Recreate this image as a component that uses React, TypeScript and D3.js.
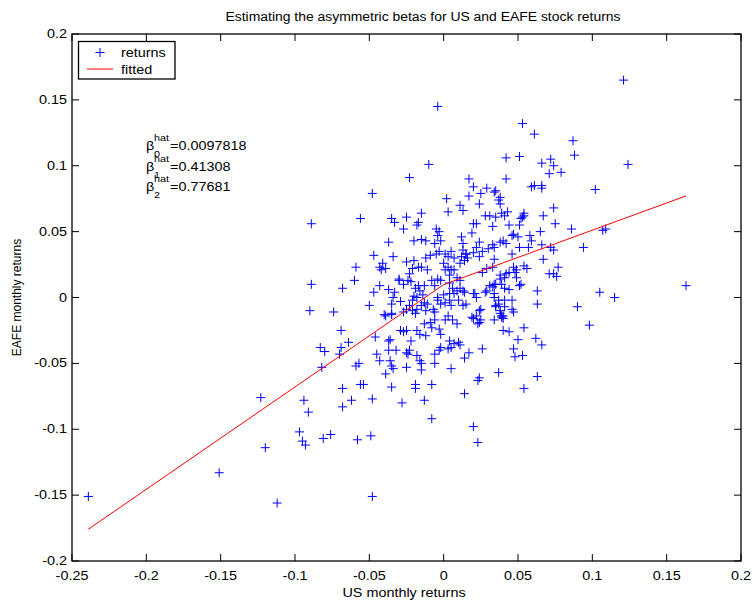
import React from "react";
import * as d3 from "d3";

// Monthly returns: [US, EAFE]
const observations: [number, number][] = [
  [-0.239, -0.151], [-0.151, -0.133], [-0.123, -0.076], [-0.120, -0.114], [-0.112, -0.156],
  [-0.097, -0.102], [-0.095, -0.109], [-0.093, -0.112], [-0.094, -0.078], [-0.091, -0.087],
  [-0.089, 0.056], [-0.089, 0.010], [-0.090, -0.010], [-0.074, -0.011], [-0.069, -0.025],
  [-0.069, -0.038], [-0.070, -0.043], [-0.083, -0.038], [-0.080, -0.041], [-0.082, -0.053],
  [-0.064, -0.034], [-0.068, -0.069], [-0.062, -0.078], [-0.068, -0.083], [-0.081, -0.107],
  [-0.076, -0.104], [-0.058, -0.108], [-0.049, -0.105], [-0.048, -0.151], [-0.056, -0.066],
  [-0.054, -0.066], [-0.048, -0.077], [-0.059, -0.052], [-0.057, -0.050], [-0.046, -0.030],
  [-0.036, -0.032], [-0.050, -0.006], [-0.047, 0.004], [-0.043, 0.009], [-0.037, 0.006],
  [-0.033, 0.004], [-0.040, -0.013], [-0.035, -0.013], [-0.035, -0.005], [-0.029, -0.003],
  [-0.030, 0.013], [-0.027, 0.010], [-0.022, 0.012], [-0.019, 0.007], [-0.016, 0.005],
  [-0.020, 0.001], [-0.021, -0.002], [-0.027, -0.011], [-0.025, -0.009], [-0.029, -0.025],
  [-0.027, -0.026], [-0.025, -0.025], [-0.018, -0.025], [-0.016, -0.028], [-0.012, -0.029],
  [-0.022, -0.033], [-0.037, -0.040], [-0.032, -0.040], [-0.037, -0.033], [-0.025, -0.042],
  [-0.023, -0.040], [-0.024, -0.043], [-0.018, -0.044], [-0.016, -0.048], [-0.015, -0.050],
  [-0.006, -0.043], [-0.003, -0.040], [-0.002, -0.038], [-0.006, -0.050], [0.005, -0.054],
  [-0.045, -0.043], [-0.043, -0.048], [-0.036, -0.048], [-0.035, -0.052], [-0.034, -0.054],
  [-0.039, -0.058], [-0.025, -0.053], [-0.015, -0.055], [-0.035, -0.068], [-0.019, -0.066],
  [-0.019, -0.069], [-0.008, -0.066], [-0.028, -0.080], [-0.013, -0.078], [-0.008, -0.092],
  [0.020, -0.098], [0.023, -0.110], [0.014, -0.073], [0.023, -0.063], [0.017, -0.042],
  [0.014, -0.046], [0.011, -0.036], [0.026, -0.039], [0.010, -0.034], [0.004, -0.033],
  [0.007, -0.035], [0.005, -0.038], [0.003, -0.039], [0.003, -0.014], [0.006, -0.017],
  [0.009, -0.020], [0.001, -0.017], [-0.006, -0.017], [-0.009, -0.019], [-0.013, -0.020],
  [-0.008, -0.023], [-0.003, -0.024], [-0.002, -0.028], [-0.039, -0.014], [-0.035, -0.012],
  [-0.034, 0.000], [-0.018, 0.000], [-0.014, 0.002], [-0.023, -0.006], [-0.021, -0.010],
  [-0.019, -0.012], [-0.018, -0.009], [-0.015, -0.006], [-0.013, -0.004], [-0.011, -0.005],
  [-0.012, -0.010], [-0.007, -0.009], [-0.006, -0.011], [-0.004, -0.002], [-0.002, -0.005],
  [0.001, -0.004], [0.004, -0.002], [0.005, -0.006], [0.007, 0.003], [0.004, 0.003],
  [0.000, 0.002], [-0.004, 0.000], [0.010, -0.002], [-0.041, 0.026], [-0.043, 0.023],
  [-0.042, 0.021], [-0.039, 0.022], [-0.025, 0.027], [-0.020, 0.028], [-0.021, 0.022],
  [-0.017, 0.023], [-0.015, 0.023], [-0.011, 0.021], [-0.012, 0.030], [-0.009, 0.032],
  [-0.005, 0.033], [-0.003, 0.035], [0.001, 0.033], [0.003, 0.031], [0.005, 0.035],
  [0.007, 0.030], [0.000, 0.026], [0.003, 0.023], [0.005, 0.021], [0.004, 0.017],
  [0.007, 0.021], [0.009, 0.015], [0.001, 0.021], [-0.030, 0.014], [-0.023, 0.018],
  [-0.024, 0.013], [-0.017, 0.009], [-0.013, 0.009], [-0.008, 0.013], [-0.006, 0.009],
  [-0.004, 0.014], [-0.002, 0.013], [-0.004, 0.047], [-0.059, 0.023], [-0.060, 0.013],
  [-0.068, 0.007], [-0.004, 0.145], [-0.010, 0.101], [-0.023, 0.091], [0.017, 0.090],
  [0.020, 0.084], [-0.048, 0.079], [0.029, 0.083], [0.035, 0.081], [0.002, 0.075],
  [0.017, 0.077], [0.025, 0.079], [0.011, 0.070], [0.013, 0.066], [0.003, 0.065],
  [0.024, 0.071], [0.037, 0.074], [-0.056, 0.060], [-0.035, 0.060], [-0.033, 0.057],
  [-0.025, 0.061], [-0.015, 0.064], [-0.017, 0.057], [-0.018, 0.055], [-0.027, 0.052],
  [-0.005, 0.052], [-0.003, 0.050], [0.020, 0.056], [0.022, 0.056], [0.019, 0.049],
  [0.028, 0.062], [0.031, 0.062], [0.035, 0.061], [0.033, 0.054], [-0.037, 0.042],
  [-0.020, 0.043], [-0.015, 0.044], [-0.012, 0.043], [-0.006, 0.041], [-0.002, 0.043],
  [0.012, 0.046], [0.013, 0.041], [0.024, 0.042], [0.022, 0.038], [0.030, 0.037],
  [0.033, 0.040], [-0.047, 0.032], [-0.034, 0.031], [0.015, 0.033], [0.020, 0.034],
  [0.024, 0.031], [0.121, 0.165], [0.053, 0.132], [0.061, 0.124], [0.087, 0.119],
  [0.088, 0.108], [0.042, 0.106], [0.051, 0.107], [0.066, 0.102], [0.072, 0.105],
  [0.074, 0.100], [0.071, 0.094], [0.079, 0.095], [0.124, 0.101], [0.042, 0.090],
  [0.059, 0.084], [0.061, 0.085], [0.066, 0.085], [0.066, 0.083], [0.102, 0.082],
  [0.034, 0.080], [0.038, 0.076], [0.038, 0.071], [0.074, 0.068], [0.039, 0.064],
  [0.041, 0.062], [0.043, 0.065], [0.053, 0.061], [0.054, 0.062], [0.067, 0.062],
  [0.075, 0.056], [0.086, 0.052], [0.107, 0.051], [0.109, 0.052], [0.044, 0.055],
  [0.051, 0.055], [0.065, 0.050], [0.046, 0.047], [0.047, 0.048], [0.050, 0.046],
  [0.058, 0.047], [0.059, 0.043], [0.038, 0.042], [0.040, 0.043], [0.042, 0.041],
  [0.034, 0.038], [0.026, 0.035], [0.051, 0.038], [0.057, 0.038], [0.066, 0.040],
  [0.072, 0.038], [0.074, 0.036], [0.094, 0.038], [0.046, 0.033], [0.067, 0.029],
  [0.034, 0.029], [0.054, 0.064], [0.052, 0.060], [0.163, 0.009], [0.077, 0.023],
  [0.074, 0.018], [0.076, 0.016], [0.056, 0.022], [0.054, 0.024], [0.047, 0.023],
  [0.049, 0.021], [0.105, 0.004], [0.115, 0.000], [0.063, 0.005], [0.063, -0.005],
  [0.090, -0.007], [0.098, -0.021], [0.051, 0.009], [0.052, 0.010], [0.054, -0.023],
  [0.040, -0.025], [0.044, -0.026], [0.050, -0.032], [0.062, -0.031], [0.066, -0.036],
  [0.047, -0.039], [0.048, -0.045], [0.053, -0.044], [0.037, -0.057], [0.054, -0.069],
  [0.063, -0.060], [0.024, -0.061], [0.046, -0.009], [0.047, -0.011], [0.039, -0.014],
  [0.040, -0.014], [0.034, -0.017], [0.025, -0.009], [0.025, -0.017], [0.034, 0.000],
  [0.037, -0.002], [0.037, -0.005], [0.035, -0.007], [0.038, -0.010], [0.041, -0.002],
  [0.046, -0.002], [0.029, 0.005], [0.031, 0.009], [0.033, 0.008], [0.034, 0.010],
  [0.039, 0.010], [0.041, 0.007], [0.044, 0.006], [0.038, 0.017], [0.042, 0.018],
  [0.041, 0.015], [0.038, 0.014], [0.044, 0.019], [0.048, 0.019], [0.049, 0.015],
  [0.029, 0.022], [0.026, 0.019], [0.033, 0.023], [0.040, -0.016], [0.020, -0.016],
  [0.024, -0.019], [0.023, -0.020], [0.024, -0.010], [0.022, -0.014], [0.019, -0.015],
  [0.015, -0.005], [0.013, -0.006], [0.021, 0.003], [0.014, 0.004], [0.028, 0.004],
  [0.035, -0.006], [0.041, -0.007], [0.038, -0.012], [0.039, -0.015], [0.013, 0.036],
  [0.015, 0.033], [0.012, 0.031], [0.014, 0.028], [0.016, 0.030], [0.011, 0.026],
  [0.071, 0.018], [0.006, 0.007], [0.011, 0.007], [0.009, 0.005], [0.013, 0.005],
  [0.004, 0.011], [0.011, 0.013], [0.020, 0.003], [0.022, 0.000], [0.035, 0.010],
  [0.034, 0.003],
];

// Asymmetric beta estimates: intercept, up-market beta, down-market beta
const betaLabels = ["0", "1", "2"];
const betaValues = [0.0097818, 0.41308, 0.77681];

const xTicks = [-0.25, -0.2, -0.15, -0.1, -0.05, 0, 0.05, 0.1, 0.15, 0.2];
const yTicks = [-0.2, -0.15, -0.1, -0.05, 0, 0.05, 0.1, 0.15, 0.2];

const W = 752;
const H = 604;
const M = { left: 72, right: 741, top: 34, bottom: 561 };
const FONT = "'Liberation Sans', Arial, Helvetica, sans-serif";
const SX = 1.2; // horizontal stretch of the lettering
const TICK = 7;

const fmt = (v: number) => {
  if (Math.abs(v) < 1e-9) return "0";
  return String(+v.toFixed(2));
};

function HText(props: {
  x: number;
  y: number;
  size?: number;
  sx?: number;
  anchor?: "start" | "middle" | "end";
  children: React.ReactNode;
}) {
  const { x, y, size = 12, sx = SX, anchor = "start", children } = props;
  return (
    <text
      transform={`translate(${x},${y}) scale(${sx},1)`}
      fontSize={size}
      fontFamily={FONT}
      textAnchor={anchor}
      fill="#000"
    >
      {children}
    </text>
  );
}

export default function App() {
  const x = d3.scaleLinear().domain([-0.25, 0.2]).range([M.left, M.right]);
  const y = d3.scaleLinear().domain([-0.2, 0.2]).range([M.bottom, M.top]);

  const [b0, b1, b2] = betaValues;
  const fitted = (u: number) => b0 + b1 * Math.max(u, 0) + b2 * Math.min(u, 0);
  const usMin = d3.min(observations, (d) => d[0]) as number;
  const usMax = d3.max(observations, (d) => d[0]) as number;
  const fitX = [usMin, 0, usMax];
  const line = d3
    .line<number>()
    .x((u) => x(u))
    .y((u) => y(fitted(u)));

  const plus = "M-4.5,0H4.5M0,-4.5V4.5";

  return (
    <svg
      width={W}
      height={H}
      style={{ position: "absolute", left: 0, top: 0, background: "#fff" }}
    >
      <rect width={W} height={H} fill="#fff" />

      {/* scatter of returns */}
      <g stroke="#0000ff" strokeWidth={1} fill="none">
        {observations.map((d, i) => (
          <path key={i} d={plus} transform={`translate(${x(d[0])},${y(d[1])})`} />
        ))}
      </g>

      {/* fitted piecewise-linear regression */}
      <path d={line(fitX) || ""} stroke="#ff0000" strokeWidth={1} fill="none" />

      {/* axes frame */}
      <rect
        x={M.left}
        y={M.top}
        width={M.right - M.left}
        height={M.bottom - M.top}
        fill="none"
        stroke="#000"
        strokeWidth={1.3}
      />
      <g stroke="#000" strokeWidth={1}>
        {xTicks.map((t) => (
          <g key={"xt" + t}>
            <line x1={x(t)} x2={x(t)} y1={M.bottom} y2={M.bottom - TICK} />
            <line x1={x(t)} x2={x(t)} y1={M.top} y2={M.top + TICK} />
          </g>
        ))}
        {yTicks.map((t) => (
          <g key={"yt" + t}>
            <line x1={M.left} x2={M.left + TICK} y1={y(t)} y2={y(t)} />
            <line x1={M.right} x2={M.right - TICK} y1={y(t)} y2={y(t)} />
          </g>
        ))}
      </g>
      {xTicks.map((t) => (
        <HText key={"xl" + t} x={x(t)} y={M.bottom + 19} anchor="middle">
          {fmt(t)}
        </HText>
      ))}
      {yTicks.map((t) => (
        <HText key={"yl" + t} x={M.left - 5} y={y(t) + 4} anchor="end">
          {fmt(t)}
        </HText>
      ))}

      {/* labels */}
      <HText x={423} y={21} anchor="middle" sx={1.16}>
        Estimating the asymmetric betas for US and EAFE stock returns
      </HText>
      <HText x={404} y={597} anchor="middle">
        US monthly returns
      </HText>
      <text
        transform={`translate(21,${(M.top + M.bottom) / 2}) rotate(-90)`}
        fontSize={12}
        fontFamily={FONT}
        textAnchor="middle"
      >
        EAFE monthly returns
      </text>

      {/* beta annotations */}
      {betaValues.map((v, i) => {
        const by = 150 + i * 20.5;
        return (
          <g key={"b" + i}>
            <HText x={146} y={by}>β</HText>
            <HText x={154} y={by - 9} size={9}>hat</HText>
            <HText x={154} y={by + 7} size={9}>{betaLabels[i]}</HText>
            <HText x={170} y={by}>={String(v)}</HText>
          </g>
        );
      })}

      {/* legend */}
      <rect x={78.5} y={41.5} width={96.5} height={37.5} fill="#fff" stroke="#000" strokeWidth={1.3} />
      <path d={plus} transform="translate(100,52.5)" stroke="#0000ff" strokeWidth={1} fill="none" />
      <HText x={121} y={57}>returns</HText>
      <line x1={87} x2={113} y1={69} y2={69} stroke="#ff0000" strokeWidth={1} />
      <HText x={121} y={73.5}>fitted</HText>
    </svg>
  );
}
